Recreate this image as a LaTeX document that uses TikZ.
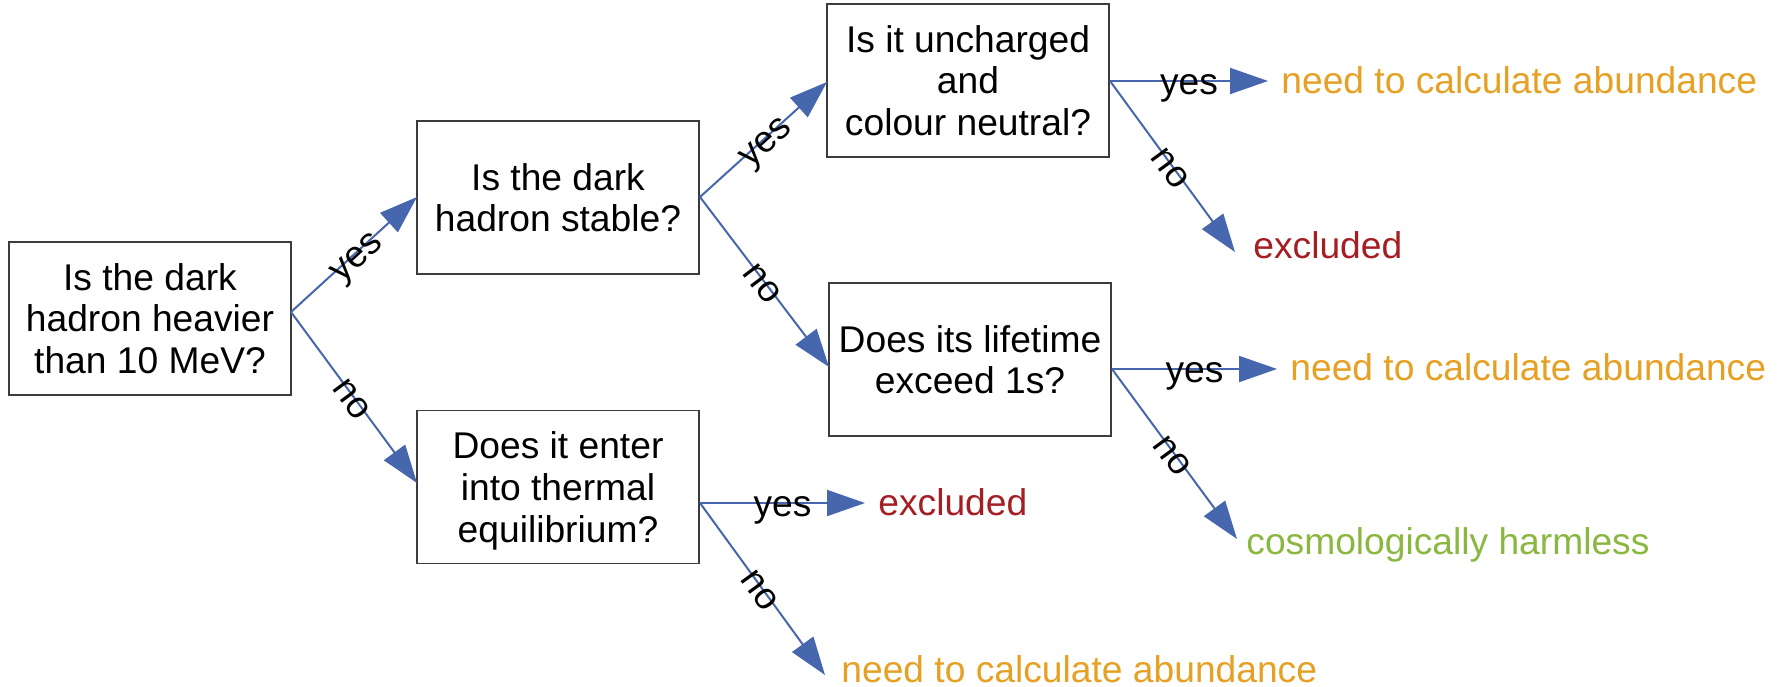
\documentclass[tikz,border=0pt]{standalone}
\usepackage{fontspec}
\setmainfont{Liberation Sans}
\usetikzlibrary{arrows.meta}
\definecolor{arrowblue}{RGB}{70,102,174}
\definecolor{leaforange}{RGB}{230,160,35}
\definecolor{leafred}{RGB}{165,30,35}
\definecolor{leafgreen}{RGB}{138,183,64}
\definecolor{boxline}{RGB}{60,60,60}
\begin{document}
\begin{tikzpicture}[x=0.5pt,y=-0.5pt,
  every node/.style={font=\fontsize{18.6}{20.8}\selectfont},
  qbox/.style={draw=boxline,line width=0.6pt,rectangle,align=center,
    minimum width=141pt,minimum height=76.5pt,inner sep=0pt,text depth=0pt},
  leaf/.style={anchor=base west,inner sep=0pt},
  conn/.style={draw=arrowblue,line width=1pt,
    -{Triangle[length=19pt,width=13pt,fill=arrowblue]}},
  lbl/.style={midway,sloped,inner sep=0pt,text=black,text height=13pt,text depth=0pt}]
\useasboundingbox (0,0) rectangle (1792,686);
% question boxes
\node[qbox] (A) at (150,318.5) {Is the dark\\hadron heavier\\than 10 MeV?};
\node[qbox] (B) at (558,197.5) {Is the dark\\hadron stable?};
\node[qbox] (C) at (558,487) {Does it enter\\into thermal\\equilibrium?};
\node[qbox] (D) at (968,80.5) {Is it uncharged\\and\\colour neutral?};
\node[qbox] (E) at (970,359.5) {Does its lifetime\\exceed 1s?};
% outcome texts
\node[leaf,text=leaforange] (L1) at (1281,93) {need to calculate abundance};
\node[leaf,text=leafred] (L2) at (1253,258) {excluded};
\node[leaf,text=leaforange] (L3) at (1290,380) {need to calculate abundance};
\node[leaf,text=leafgreen] (L4) at (1246,554) {cosmologically harmless};
\node[leaf,text=leafred] (L5) at (878,515) {excluded};
\node[leaf,text=leaforange] (L6) at (841,682) {need to calculate abundance};
% connection points
\coordinate (Aout) at (291,312);
\coordinate (Bin) at (417,197);
\coordinate (Cin) at (417,483);
\coordinate (Bout) at (700,197);
\coordinate (Din) at (827,82);
\coordinate (Ein) at (829,367);
\coordinate (Cout) at (700,503);
\coordinate (Dout) at (1110,81);
\coordinate (Eout) at (1112,369);
\coordinate (t1) at (865,503);
\coordinate (t2) at (825,675);
\coordinate (t3) at (1268,81);
\coordinate (t4) at (1235,252);
\coordinate (t5) at (1277,369);
\coordinate (t6) at (1237,539);
% connectors
\draw[conn] (Aout) -- node[lbl] {yes} (Bin);
\draw[conn] (Aout) -- node[lbl] {no} (Cin);
\draw[conn] (Bout) -- node[lbl] {yes} (Din);
\draw[conn] (Bout) -- node[lbl] {no} (Ein);
\draw[conn] (Cout) -- node[lbl] {yes} (t1);
\draw[conn] (Cout) -- node[lbl] {no} (t2);
\draw[conn] (Dout) -- node[lbl] {yes} (t3);
\draw[conn] (Dout) -- node[lbl] {no} (t4);
\draw[conn] (Eout) -- node[lbl] {yes} (t5);
\draw[conn] (Eout) -- node[lbl] {no} (t6);
\end{tikzpicture}
\end{document}
